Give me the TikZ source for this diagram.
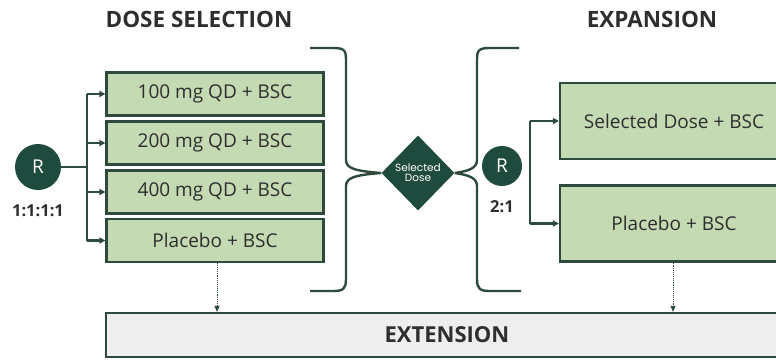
\documentclass[tikz,border=0pt]{standalone}
\usepackage{fontspec}
\setmainfont{Open Sans}
\newfontfamily\geofont{Poppins}
\usetikzlibrary{arrows.meta,shapes.geometric}

\definecolor{armfill}{HTML}{C4DAB2}
\definecolor{darkline}{HTML}{2E4A3C}
\definecolor{randfill}{HTML}{1F4A3E}
\definecolor{extfill}{HTML}{EEEEEE}
\definecolor{txt}{HTML}{2E2E2E}

\tikzset{
  armbox/.style={draw=darkline, line width=2.2pt, fill=armfill, text=txt,
    font=\fontsize{19}{22}\selectfont, inner sep=0pt},
  randnode/.style={circle, fill=randfill, text=white, inner sep=0pt,
    font=\fontsize{19}{22}\selectfont},
  ratio/.style={text=txt, font=\bfseries\fontsize{16.5}{18}\selectfont},
  heading/.style={text=txt, font=\bfseries\fontsize{22.5}{26}\selectfont},
  link/.style={draw=darkline, line width=2.2pt},
  linkarrow/.style={link, -{Triangle[length=6pt,width=6pt]}},
  dotarrow/.style={draw=darkline, line width=0.9pt, densely dotted,
    -{Triangle[length=6pt,width=5pt]}},
  bracket/.style={draw=darkline, line width=2.4pt},
}

\begin{document}
\begin{tikzpicture}[x=1pt,y=-1pt]
\useasboundingbox (0,0) rectangle (776,360);
\clip (0,0) rectangle (776,360);

% headings
\node[heading] (hdose) at (199,19) {DOSE SELECTION};
\node[heading] (hexp) at (652,19) {EXPANSION};

% dose selection arms
\node[armbox, minimum width=217pt, minimum height=43pt] (a1) at (215,94) {100 mg QD + BSC};
\node[armbox, minimum width=217pt, minimum height=43pt] (a2) at (215,143) {200 mg QD + BSC};
\node[armbox, minimum width=217pt, minimum height=43pt] (a3) at (215,192) {400 mg QD + BSC};
\node[armbox, minimum width=217pt, minimum height=43pt] (a4) at (215,240.5) {Placebo + BSC};

% first randomisation
\node[randnode, minimum size=46pt] (r1) at (38,167) {R};
\node[ratio] (q1) at (38,211) {1:1:1:1};
\coordinate (split1) at (87,167);
\draw[link] (r1.east) -- (split1);
\draw[link] (87,94) -- (87,240.5);
\foreach \k in {a1,a2,a3,a4}
  \draw[linkarrow] (87,0 |- \k.west) -- (\k.west);

% selected dose decision
\node[diamond, fill=randfill, text=white, inner sep=0pt, minimum width=73pt,
  minimum height=75pt, align=center,
  font=\geofont\fontsize{10.5}{11}\selectfont] (sel) at (418,173) {Selected\\[-1pt]Dose};

% brackets round the decision
\coordinate (lb1) at (310,48);
\coordinate (lb2) at (310,291);
\coordinate (rb1) at (519,48);
\coordinate (rb2) at (521,291);
\draw[bracket] (lb1) -- (334,48) .. controls (346,48) and (346,52) .. (346,62)
  -- (346,160) .. controls (346,168) and (354,171) .. (sel.west)
  (sel.west) .. controls (354,175) and (346,178) .. (346,186)
  -- (346,279) .. controls (346,289) and (343,291) .. (333,291) -- (lb2);
\draw[bracket] (rb1) -- (489,48) .. controls (477,48) and (477,52) .. (477,62)
  -- (477,160) .. controls (477,168) and (469,171) .. (sel.east)
  (sel.east) .. controls (469,175) and (477,178) .. (477,186)
  -- (477,279) .. controls (477,289) and (480,291) .. (490,291) -- (rb2);

% expansion arms
\node[armbox, minimum width=228pt, minimum height=76pt] (b1) at (674,121) {Selected Dose + BSC};
\node[armbox, minimum width=228pt, minimum height=76pt] (b2) at (674,223.5) {Placebo + BSC};

% second randomisation
\node[randnode, minimum size=40pt] (r2) at (502,166) {R};
\node[ratio] (q2) at (502,207) {2:1};
\draw[link] (530,121) -- (530,223.5);
\draw[linkarrow] (530,121) -- (b1.west);
\draw[linkarrow] (530,223.5) -- (b2.west);

% extension
\node[draw=darkline, line width=2.2pt, fill=extfill, minimum width=682pt,
  minimum height=44pt, inner sep=0pt, text=txt,
  font=\bfseries\fontsize{22}{26}\selectfont] (ext) at (447,335) {EXTENSION};
\draw[dotarrow] (217,0 |- a4.south) -- (217,0 |- ext.north);
\draw[dotarrow] (673,0 |- b2.south) -- (673,0 |- ext.north);
\end{tikzpicture}
\end{document}
